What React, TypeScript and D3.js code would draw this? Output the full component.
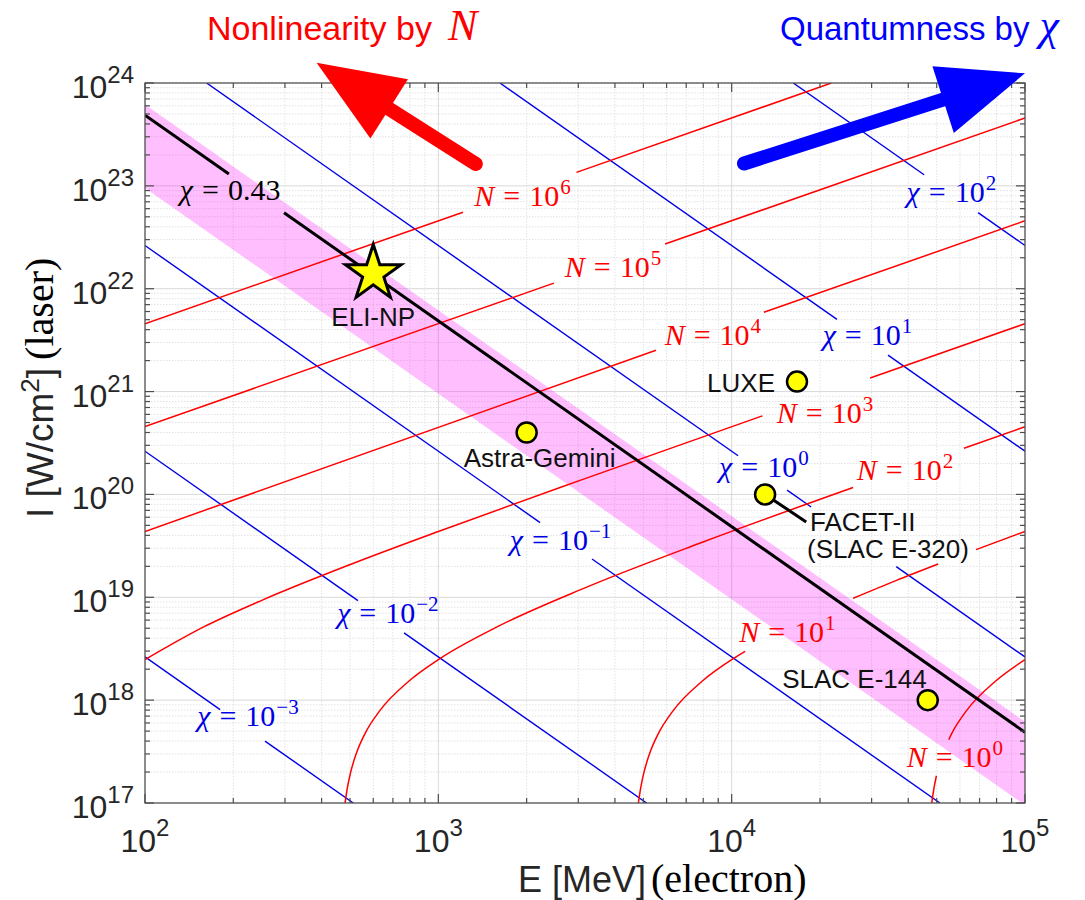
import React from 'react';
import * as d3 from 'd3';

const W = 1085;
const H = 900;
const M = { left: 145, right: 1025, top: 83, bottom: 803 };

// Axis domains
const xDomain: [number, number] = [1e2, 1e5]; // E [MeV]
const yDomain: [number, number] = [1e17, 1e24]; // I [W/cm^2]

type LP = [number, number]; // [log10 E, log10 I]

// Iso-chi lines (blue), visible pieces, in log10 coordinates
const chiLevels = ['2', '1', '0', '−1', '−2', '−3'];
const chiSegments: LP[][][] = [
  [[[4.21, 24], [4.656, 23.108]], [[4.84, 22.74], [5, 22.42]]],
  [[[3.21, 24], [4.359, 21.702]], [[4.533, 21.354], [5, 20.42]]],
  [[[2.21, 24], [4.022, 20.376]], [[4.189, 20.042], [4.271, 19.878]], [[4.561, 19.298], [5, 18.42]]],
  [[[2, 22.42], [3.347, 19.726]], [[3.524, 19.372], [4.71, 17]]],
  [[[2, 20.42], [2.726, 18.968]], [[2.883, 18.654], [3.71, 17]]],
  [[[2, 18.42], [2.256, 17.908]], [[2.409, 17.602], [2.71, 17]]],
];
const chiLabelPos: LP[] = [
  [4.749, 22.843], [4.463, 21.453], [4.110, 20.169], [3.4165, 19.46], [2.828, 18.751], [2.351, 17.744],
];

// chi = 0.43 line (black) and its band
const chi043Segments: LP[][] = [
  [[2, 23.687], [2.286, 23.115]],
  [[2.474, 22.739], [5, 17.687]],
];
const chi043LabelPos: LP = [2.29, 22.862];
const bandUpper: LP[] = [[2, 23.79], [5, 17.79]];
const bandLower: LP[] = [[5, 16.98], [2, 22.98]];

// Iso-N curves (red)
const nLevels = ['6', '5', '4', '3', '2', '1', '0'];
const nSegments: LP[][][] = [
  [[[2, 21.66], [3.084, 22.744]], [[3.471, 23.131], [4.34, 24]]],
  [[[2, 20.66], [3.394, 22.054]], [[3.773, 22.434], [5, 23.66]]],
  [[[2, 19.64], [3.742, 21.402]], [[4.11, 21.771], [5, 22.66]]],
  [
    [[2, 18.394], [2.2, 18.712], [2.4, 18.973], [2.7, 19.319], [3, 19.64], [3.5, 20.154], [4.105, 20.764]],
    [[4.472, 21.132], [5, 21.66]],
  ],
  [
    [[2.682, 17], [2.69, 17.149], [2.7, 17.286], [2.72, 17.479], [2.75, 17.675], [2.8, 17.896], [2.9, 18.186],
      [3, 18.394], [3.2, 18.712], [3.5, 19.092], [3.9, 19.535], [4.414, 20.067]],
    [[4.792, 20.449], [5, 20.658]],
  ],
  [
    [[3.682, 17], [3.69, 17.149], [3.7, 17.286], [3.72, 17.479], [3.75, 17.675], [3.8, 17.896], [3.9, 18.186],
      [4, 18.394], [4.046, 18.475]],
    [[4.414, 18.99], [4.56, 19.162], [4.704, 19.323]],
    [[4.833, 19.463], [5, 19.64]],
  ],
  [
    [[4.682, 17], [4.69, 17.149], [4.698, 17.265]],
    [[4.74, 17.615], [4.75, 17.675], [4.8, 17.896], [4.9, 18.186], [5, 18.394]],
  ],
];
const nLabelPos: LP[] = [
  [3.287, 22.804], [3.5955, 22.114], [3.936, 21.453], [4.318, 20.694], [4.591, 20.14], [4.19, 18.565], [4.761, 17.35],
];

// Facilities
const facilityNames = ['LUXE', 'Astra-Gemini', 'FACET-II', 'SLAC E-144'];
const facilityE = [16700, 2000, 13000, 46600];
const facilityI = [1.25e21, 4e20, 1e20, 1e18];
const eliName = 'ELI-NP';
const eliE = 600;
const eliI = 1.4e22;
const facetLeaderEnd: [number, number] = [17950, 5.4e19];

// Arrows (tail, tip) in log10 coordinates
const redArrow: LP[] = [[3.128, 23.2125], [2.585, 24.197]];
const blueArrow: LP[] = [[4.042, 23.217], [5.0, 24.094]];

const SANS = "'Liberation Sans', Arial, Helvetica, sans-serif";
const SERIF = "'Liberation Serif', 'Times New Roman', serif";

export default function App() {
  const x = d3.scaleLog().domain(xDomain).range([M.left, M.right]);
  const y = d3.scaleLog().domain(yDomain).range([M.bottom, M.top]);
  const P = (p: LP): [number, number] => [x(Math.pow(10, p[0])), y(Math.pow(10, p[1]))];

  const line = d3.line<[number, number]>().curve(d3.curveMonotoneX);
  const straight = d3.line<[number, number]>();

  const isMajor = (v: number) => Math.abs(Math.log10(v) - Math.round(Math.log10(v))) < 1e-9;
  const xTicks = x.ticks();
  const yTicks = y.ticks();

  const bandPts = [...bandUpper, ...bandLower].map(P);

  const mathLabel = (pos: LP, sym: string, base: string, exp: string | null, color: string, key: string) => {
    const [px, py] = P(pos);
    return (
      <text key={key} x={px} y={py} textAnchor="middle" fill={color} fontFamily={SERIF} fontSize={30}>
        <tspan fontStyle="italic">{sym}</tspan>
        <tspan dx={9}>=</tspan>
        <tspan dx={9}>{base}</tspan>
        {exp !== null && (
          <tspan dx={1} dy={-12} fontSize={21}>
            {exp}
          </tspan>
        )}
      </text>
    );
  };

  const arrow = (pts: LP[], color: string, key: string) => {
    const [t0, t1] = P(pts[0]);
    const [h0, h1] = P(pts[1]);
    const dx = h0 - t0;
    const dy = h1 - t1;
    const L = Math.hypot(dx, dy);
    const ux = dx / L;
    const uy = dy / L;
    const headLen = 86;
    const half = 35;
    const bx = h0 - ux * headLen;
    const by = h1 - uy * headLen;
    const tri = `M${h0},${h1} L${bx - uy * half},${by + ux * half} L${bx + uy * half},${by - ux * half} Z`;
    return (
      <g key={key}>
        <line x1={t0} y1={t1} x2={bx + ux * 4} y2={by + uy * 4} stroke={color} strokeWidth={14} strokeLinecap="round" />
        <path d={tri} fill={color} />
      </g>
    );
  };

  const facetIdx = 2;
  const fx = x(facilityE[facetIdx]);
  const fy = y(facilityI[facetIdx]);

  return (
    <svg
      width={W}
      height={H}
      style={{ position: 'absolute', left: 0, top: 0, background: '#fff' }}
      xmlns="http://www.w3.org/2000/svg"
    >
      <defs>
        <clipPath id="plotClip">
          <rect x={M.left} y={M.top} width={M.right - M.left} height={M.bottom - M.top} />
        </clipPath>
      </defs>
      <rect x={0} y={0} width={W} height={H} fill="#fff" />

      {/* grid */}
      <g>
        {xTicks.map((v, i) => (
          <line
            key={'gx' + i}
            x1={x(v)}
            x2={x(v)}
            y1={M.top}
            y2={M.bottom}
            stroke={isMajor(v) ? '#d9d9d9' : '#e2e2e2'}
            strokeWidth={1}
            strokeDasharray={isMajor(v) ? undefined : '1.5,1.5'}
          />
        ))}
        {yTicks.map((v, i) => (
          <line
            key={'gy' + i}
            y1={y(v)}
            y2={y(v)}
            x1={M.left}
            x2={M.right}
            stroke={isMajor(v) ? '#d9d9d9' : '#e2e2e2'}
            strokeWidth={1}
            strokeDasharray={isMajor(v) ? undefined : '1.5,1.5'}
          />
        ))}
      </g>

      <g clipPath="url(#plotClip)">
        {/* band */}
        <path d={straight(bandPts as [number, number][]) + 'Z'} fill="#ff00ff" fillOpacity={0.25} />

        {/* chi lines */}
        {chiSegments.map((segs, i) =>
          segs.map((s, j) => (
            <path key={`c${i}-${j}`} d={straight(s.map(P)) || ''} fill="none" stroke="#0000e6" strokeWidth={1.4} />
          ))
        )}
        {/* N lines */}
        {nSegments.map((segs, i) =>
          segs.map((s, j) => (
            <path key={`n${i}-${j}`} d={line(s.map(P)) || ''} fill="none" stroke="#ff0000" strokeWidth={1.5} />
          ))
        )}
        {/* chi = 0.43 */}
        {chi043Segments.map((s, j) => (
          <path key={`k${j}`} d={straight(s.map(P)) || ''} fill="none" stroke="#000" strokeWidth={3} />
        ))}
      </g>

      {/* ticks & frame */}
      <g stroke="#4d4d4d" strokeWidth={1.2}>
        {xTicks.map((v, i) => {
          const len = isMajor(v) ? 9 : 5;
          return (
            <g key={'tx' + i}>
              <line x1={x(v)} x2={x(v)} y1={M.bottom} y2={M.bottom - len} />
              <line x1={x(v)} x2={x(v)} y1={M.top} y2={M.top + len} />
            </g>
          );
        })}
        {yTicks.map((v, i) => {
          const len = isMajor(v) ? 9 : 5;
          return (
            <g key={'ty' + i}>
              <line y1={y(v)} y2={y(v)} x1={M.left} x2={M.left + len} />
              <line y1={y(v)} y2={y(v)} x1={M.right} x2={M.right - len} />
            </g>
          );
        })}
        <rect x={M.left} y={M.top} width={M.right - M.left} height={M.bottom - M.top} fill="none" />
      </g>

      {/* tick labels */}
      <g fill="#262626" fontFamily={SANS}>
        {xTicks.filter(isMajor).map((v, i) => (
          <text key={'lx' + i} x={x(v)} y={M.bottom + 49} textAnchor="middle" fontSize={32}>
            10
            <tspan dy={-16} fontSize={24}>
              {Math.round(Math.log10(v))}
            </tspan>
          </text>
        ))}
        {yTicks.filter(isMajor).map((v, i) => (
          <text key={'ly' + i} x={M.left - 11} y={y(v) + 15} textAnchor="end" fontSize={32}>
            10
            <tspan dy={-15} fontSize={24}>
              {Math.round(Math.log10(v))}
            </tspan>
          </text>
        ))}
      </g>

      {/* axis titles */}
      <text x={518} y={892} fontFamily={SANS} fontSize={36} fill="#262626">
        {'E [MeV]'}
        <tspan fontFamily={SERIF} fontSize={40} fill="#000" dx={5}>
          (electron)
        </tspan>
      </text>
      <text transform={`translate(53,518) rotate(-90)`} fontFamily={SANS} fontSize={37} fill="#262626">
        {'I [W/cm'}
        <tspan dy={-14} fontSize={26}>
          2
        </tspan>
        <tspan dy={14}>]</tspan>
        <tspan fontFamily={SERIF} fontSize={40} fill="#000" dx={8}>
          (laser)
        </tspan>
      </text>

      {/* line labels */}
      {chiLevels.map((e, i) => mathLabel(chiLabelPos[i], 'χ', '10', e, '#0000e6', 'cl' + i))}
      {nLevels.map((e, i) => mathLabel(nLabelPos[i], 'N', '10', e, '#ff0000', 'nl' + i))}
      {mathLabel(chi043LabelPos, 'χ', '0.43', null, '#000', 'k043')}

      {/* FACET leader */}
      <line x1={fx} y1={fy} x2={x(facetLeaderEnd[0])} y2={y(facetLeaderEnd[1])} stroke="#000" strokeWidth={3} />

      {/* facilities */}
      {facilityNames.map((n, i) => (
        <circle key={'f' + i} cx={x(facilityE[i])} cy={y(facilityI[i])} r={10} fill="#ffff00" stroke="#000" strokeWidth={2.5} />
      ))}
      <path
        d={d3.symbol(d3.symbolStar, 960)() || ''}
        transform={`translate(${x(eliE)},${y(eliI)})`}
        fill="#ffff00"
        stroke="#000"
        strokeWidth={3}
        strokeLinejoin="miter"
      />

      <g fontFamily={SANS} fontSize={26} fill="#111">
        <text x={x(facilityE[0]) - 22} y={y(facilityI[0]) + 10} textAnchor="end">
          {facilityNames[0]}
        </text>
        <text x={x(facilityE[1]) + 13} y={y(facilityI[1]) + 34} textAnchor="middle">
          {facilityNames[1]}
        </text>
        <text x={fx + 45} y={fy + 37}>
          {facilityNames[2]}
        </text>
        <text x={fx + 42} y={fy + 64}>
          (SLAC E-320)
        </text>
        <text x={x(facilityE[3]) - 1} y={y(facilityI[3]) - 12} textAnchor="end">
          {facilityNames[3]}
        </text>
        <text x={x(eliE)} y={y(eliI) + 52} textAnchor="middle">
          {eliName}
        </text>
      </g>

      {/* arrows */}
      {arrow(redArrow, '#ff0000', 'ra')}
      {arrow(blueArrow, '#0000ff', 'ba')}

      {/* top titles */}
      <text x={207} y={40} fontFamily={SANS} fontSize={34} fill="#ff0000">
        {'Nonlinearity by'}
        <tspan fontFamily={SERIF} fontStyle="italic" fontSize={44} dx={16}>
          N
        </tspan>
      </text>
      <text x={780} y={40} fontFamily={SANS} fontSize={33} fill="#0000ff">
        {'Quantumness by'}
        <tspan fontFamily={SERIF} fontStyle="italic" fontSize={44} dx={10}>
          χ
        </tspan>
      </text>
    </svg>
  );
}
